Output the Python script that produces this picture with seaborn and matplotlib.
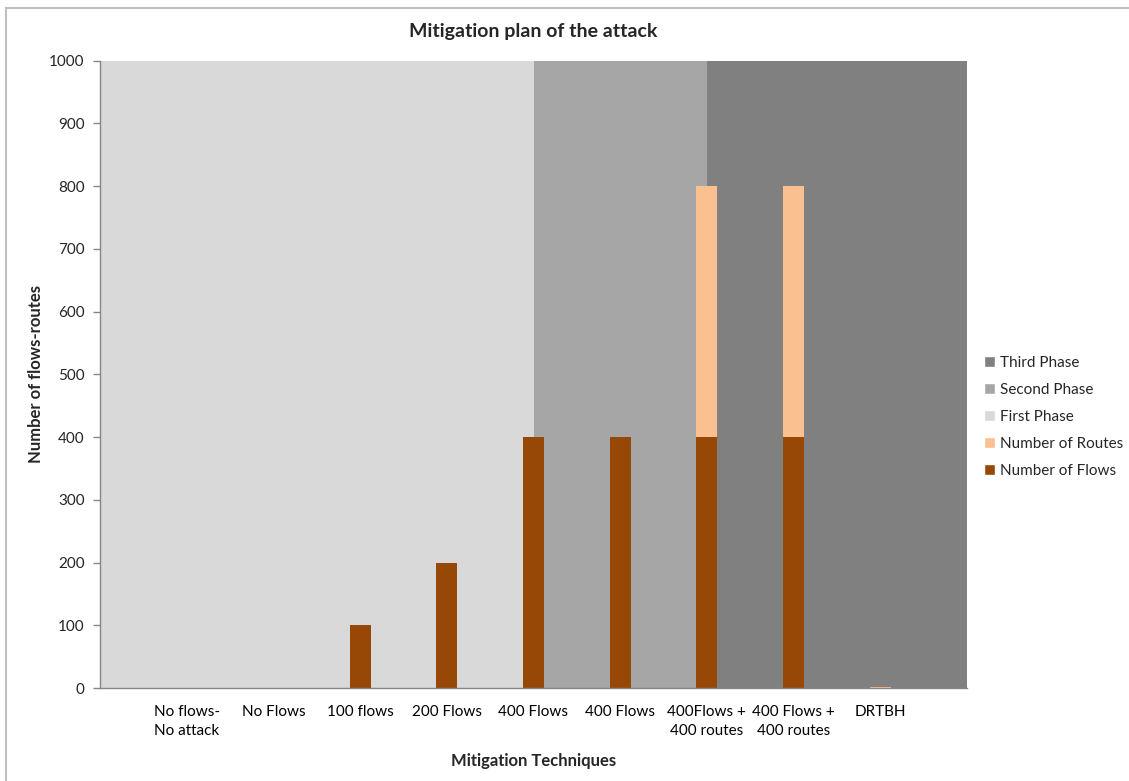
import matplotlib
matplotlib.use("Agg")
import matplotlib.pyplot as plt
from matplotlib.patches import Patch, Rectangle
import seaborn as sns
import pandas as pd

categories = ["No flows-\nNo attack", "No Flows", "100 flows", "200 Flows", "400 Flows",
              "400 Flows", "400Flows +\n400 routes", "400 Flows +\n400 routes", "DRTBH"]
flows = [0, 0, 100, 200, 400, 400, 400, 400, 0]
routes = [0, 0, 0, 0, 0, 0, 400, 400, 2]

phase_names = ["First Phase", "Second Phase", "Third Phase"]
phase_start = [0, 5, 7]
phase_end = [5, 7, 10]
phase_value = [1000, 1000, 1000]

yticks = list(range(0, 1001, 100))

c_flows = "#974706"
c_routes = "#FAC090"
c_phase = ["#D9D9D9", "#A6A6A6", "#808080"]

sns.set_theme(style="white")
plt.rcParams['font.family'] = ['Lato', 'DejaVu Sans']

fig = plt.figure(figsize=(11.29, 7.81), dpi=100)
ax = fig.add_axes([100/1129, 1-688/781, 867/1129, (688-60.7)/781])

# phase backgrounds
for s, e, v, c in zip(phase_start, phase_end, phase_value, c_phase):
    ax.bar(s, v, width=e - s, align="edge", color=c, linewidth=0, zorder=0)

df = pd.DataFrame({
    "pos": list(range(1, len(categories) + 1)),
    "flows": flows,
    "total": [f + r for f, r in zip(flows, routes)],
})
sns.barplot(data=df, x="pos", y="total", native_scale=True, width=0.24,
            color=c_routes, saturation=1, ax=ax, zorder=2, linewidth=0)
sns.barplot(data=df, x="pos", y="flows", native_scale=True, width=0.24,
            color=c_flows, saturation=1, ax=ax, zorder=3, linewidth=0)

ax.set_xlim(0, 10)
ax.set_ylim(0, 1000)
ax.set_xticks(df["pos"])
ax.set_xticklabels(categories, fontsize=11, color="#000000", multialignment="center",
                   linespacing=1.45)
ax.set_yticks(yticks)
ax.set_yticklabels([str(t) for t in yticks], fontsize=11)
ax.tick_params(axis="x", length=0, pad=12)
ax.tick_params(axis="y", length=5, width=1, color="#868686", direction="out", left=True, pad=6)

for side in ["top", "right"]:
    ax.spines[side].set_visible(False)
for side in ["left", "bottom"]:
    ax.spines[side].set_color("#868686")
    ax.spines[side].set_linewidth(1)
    ax.spines[side].set_zorder(5)

ax.set_xlabel("Mitigation Techniques", fontsize=12, fontweight="bold", labelpad=11)
ax.set_ylabel("Number of flows-routes", fontsize=12, fontweight="bold", labelpad=4)
fig.text((100+967)/2/1129, 1-31.5/781, "Mitigation plan of the attack", ha="center", va="center",
         fontsize=14, fontweight="bold")

handles = [Patch(facecolor=c_phase[2], label=phase_names[2]),
           Patch(facecolor=c_phase[1], label=phase_names[1]),
           Patch(facecolor=c_phase[0], label=phase_names[0]),
           Patch(facecolor=c_routes, label="Number of Routes"),
           Patch(facecolor=c_flows, label="Number of Flows")]
leg = fig.legend(handles=handles, loc="upper left", bbox_to_anchor=(978/1129, 1-350/781),
                 frameon=False, fontsize=11, handlelength=0.7, handleheight=0.7,
                 handletextpad=0.35, labelspacing=0.85, borderaxespad=0)

fig.patches.append(Rectangle((6/1129, -0.05), 1.1, 1-8/781+0.05, transform=fig.transFigure,
                             fill=False, edgecolor="#BFBFBF", linewidth=1.5))

fig.savefig("out.png", dpi=100)
